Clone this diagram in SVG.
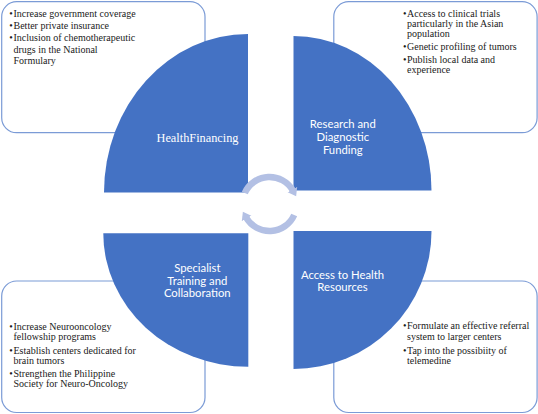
<svg xmlns="http://www.w3.org/2000/svg" width="538" height="414" viewBox="0 0 538 414">
<style>
.box{fill:#ffffff;stroke:#7b9bd6;stroke-width:1.2}
.q{fill:#4472c4}
.bt{font-size:10px;fill:#1a1a1a}
.ls{font-size:11.3px;fill:#ffffff;text-anchor:middle}
.lf{font-size:12.3px;fill:#ffffff;text-anchor:middle}
.arc{fill:none;stroke:#b3c0e4;stroke-width:6.5;marker-end:url(#ah)}
</style>
<defs>
<marker id="ah" markerUnits="userSpaceOnUse" markerWidth="12" markerHeight="12" viewBox="0 0 12 12" refX="1" refY="6" orient="auto">
<path d="M0,0.5 L7.5,6 L0,11.5 Z" fill="#b3c0e4"/>
</marker>
</defs>
<rect width="538" height="414" fill="#ffffff"/>

<g id="box-financing" font-family="Liberation Serif, serif">
<rect class="box" x="1.7" y="1.7" width="203.3" height="131" rx="15"/>
<text class="bt"><tspan x="9.3" y="17">•</tspan><tspan x="13.5" y="17">Increase government coverage</tspan></text>
<text class="bt"><tspan x="9.3" y="28.5">•</tspan><tspan x="13.5" y="28.5">Better private insurance</tspan></text>
<text class="bt"><tspan x="9.3" y="41.2">•</tspan><tspan x="13.5" y="41.2">Inclusion of chemotherapeutic</tspan><tspan x="13.5" y="52.5">drugs in the National</tspan><tspan x="13.5" y="64">Formulary</tspan></text>
</g>

<g id="box-research" font-family="Liberation Serif, serif">
<rect class="box" x="333.8" y="1.7" width="203.3" height="131" rx="15"/>
<text class="bt"><tspan x="403" y="16.7">•</tspan><tspan x="407" y="16.7">Access to clinical trials</tspan><tspan x="407" y="26.7">particularly in the Asian</tspan><tspan x="407" y="36.7">population</tspan></text>
<text class="bt"><tspan x="403" y="50">•</tspan><tspan x="407" y="50">Genetic profiling of tumors</tspan></text>
<text class="bt"><tspan x="403" y="63.3">•</tspan><tspan x="407" y="63.3">Publish local data and</tspan><tspan x="407" y="73.3">experience</tspan></text>
</g>

<g id="box-training" font-family="Liberation Serif, serif">
<rect class="box" x="1.7" y="281" width="203.3" height="131.5" rx="15"/>
<text class="bt"><tspan x="9.3" y="330.2">•</tspan><tspan x="13.5" y="330.2">Increase Neurooncology</tspan><tspan x="13.5" y="340.2">fellowship programs</tspan></text>
<text class="bt"><tspan x="9.3" y="353.5">•</tspan><tspan x="13.5" y="353.5">Establish centers dedicated for</tspan><tspan x="13.5" y="363.5">brain tumors</tspan></text>
<text class="bt"><tspan x="9.3" y="376.8">•</tspan><tspan x="13.5" y="376.8">Strengthen the Philippine</tspan><tspan x="13.5" y="387.2">Society for Neuro-Oncology</tspan></text>
</g>

<g id="box-access" font-family="Liberation Serif, serif">
<rect class="box" x="333.8" y="281" width="203.3" height="131.5" rx="15"/>
<text class="bt"><tspan x="403" y="329.4">•</tspan><tspan x="407" y="329.4">Formulate an effective referral</tspan><tspan x="407" y="340">system to larger centers</tspan></text>
<text class="bt"><tspan x="403" y="354">•</tspan><tspan x="407" y="354">Tap into the possibiity of</tspan><tspan x="407" y="364">telemedine</tspan></text>
</g>

<g id="node-financing">
<path class="q" d="M248,192.5 L104,192.5 A144,158.5 0 0 1 248,34 Z"/>
<text class="lf" font-family="Liberation Serif, serif" x="197.5" y="141.5">HealthFinancing</text>
</g>

<g id="node-research" font-family="Lato, sans-serif">
<path class="q" d="M293.5,190.5 L293.5,36 A138,154.5 0 0 1 431.5,190.5 Z"/>
<text class="ls"><tspan x="342.8" y="128.3">Research and</tspan><tspan x="342.8" y="141">Diagnostic</tspan><tspan x="342.8" y="153.6">Funding</tspan></text>
</g>

<g id="node-training" font-family="Lato, sans-serif">
<path class="q" d="M248.3,233.3 L248.3,366.7 A145,133.4 0 0 1 103.3,233.3 Z"/>
<text class="ls"><tspan x="197.3" y="272.4">Specialist</tspan><tspan x="197.3" y="284.8">Training and</tspan><tspan x="197.3" y="297.4">Collaboration</tspan></text>
</g>

<g id="node-access" font-family="Lato, sans-serif">
<path class="q" d="M293.5,231 L431.5,231 A138,138 0 0 1 293.5,369 Z"/>
<text class="ls"><tspan x="342.5" y="278.6">Access to Health</tspan><tspan x="342.5" y="291">Resources</tspan></text>
</g>

<g id="connectors">
<path class="arc" d="M244.8,193 A27,27 0 0 1 292.9,190.5"/>
<path class="arc" d="M294.2,215 A27,27 0 0 1 246.1,217.5"/>
</g>
</svg>
